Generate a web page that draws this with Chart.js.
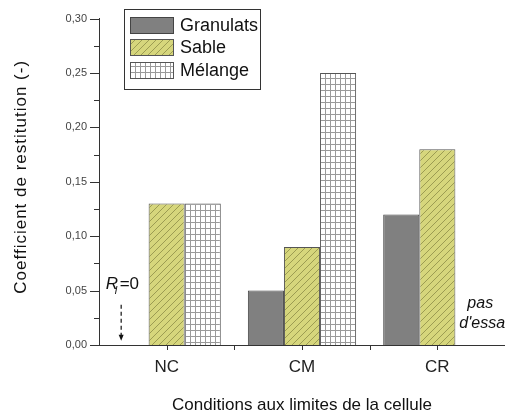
<!DOCTYPE html>
<html><head><meta charset="utf-8">
<script src="https://cdn.jsdelivr.net/npm/chart.js@4/dist/chart.umd.min.js"></script>
<style>html,body{margin:0;padding:0;background:#fff;}#wrap{width:505px;height:418px;}</style>
</head><body><div id="wrap"><canvas id="c" width="505" height="418"></canvas></div>
<script>
const categories = ['NC', 'CM', 'CR'];
const seriesNames = ['Granulats', 'Sable', 'Mélange'];
const granulats = [null, 0.05, 0.12];
const sable = [0.13, 0.09, 0.18];
const melange = [0.13, 0.25, null];
const yTicks = [0, 0.05, 0.10, 0.15, 0.20, 0.25, 0.30];
const yTitle = 'Coefficient de restitution (-)';
const xTitle = 'Conditions aux limites de la cellule';
const noteLeft = ['R', 'l', '=0'];
const noteRight = ['pas', "d'essai"];

function hatchPattern() {
  const c = document.createElement('canvas'); c.width = 7; c.height = 7;
  const g = c.getContext('2d');
  g.fillStyle = '#d6d67c'; g.fillRect(0, 0, 7, 7);
  g.strokeStyle = '#8d8d48'; g.lineWidth = 0.8;
  g.beginPath(); g.moveTo(-1, 8); g.lineTo(8, -1); g.stroke();
  g.beginPath(); g.moveTo(-1, 1); g.lineTo(1, -1); g.stroke();
  g.beginPath(); g.moveTo(6, 8); g.lineTo(8, 6); g.stroke();
  return g.createPattern(c, 'repeat');
}
function gridPattern() {
  const c = document.createElement('canvas'); c.width = 5; c.height = 6;
  const g = c.getContext('2d');
  g.fillStyle = '#ffffff'; g.fillRect(0, 0, 5, 6);
  g.fillStyle = '#9a9a9a'; g.fillRect(0, 0, 1, 6); g.fillRect(0, 0, 5, 1);
  return g.createPattern(c, 'repeat');
}
const fills = ['#808080', hatchPattern(), gridPattern()];
const borders = ['#444444', '#555555', '#555555'];

const FONT = "'Liberation Sans', Arial, sans-serif";

const extras = {
  id: 'extras',
  afterDraw(chart) {
    const ctx = chart.ctx;
    const xs = chart.scales.x, ys = chart.scales.y;
    const axisX = xs.left, axisY = ys.bottom;
    ctx.save();
    ctx.strokeStyle = '#333'; ctx.lineWidth = 1;
    // y ticks (major + minor)
    for (let i = 0; i < yTicks.length; i++) {
      const p = Math.round(ys.getPixelForValue(yTicks[i])) + 0.5;
      ctx.beginPath(); ctx.moveTo(axisX - 9, p); ctx.lineTo(axisX, p); ctx.stroke();
      if (i < yTicks.length - 1) {
        const m = Math.round(ys.getPixelForValue((yTicks[i] + yTicks[i + 1]) / 2)) + 0.5;
        ctx.beginPath(); ctx.moveTo(axisX - 5, m); ctx.lineTo(axisX, m); ctx.stroke();
      }
    }
    // x ticks at centers and between categories
    const step = (xs.right - xs.left) / categories.length;
    for (let i = 0; i < categories.length; i++) {
      const c = Math.round(xs.getPixelForValue(i)) + 0.5;
      ctx.beginPath(); ctx.moveTo(c, axisY); ctx.lineTo(c, axisY + 5); ctx.stroke();
      if (i > 0) {
        const b = Math.round(xs.left + step * i) + 0.5;
        ctx.beginPath(); ctx.moveTo(b, axisY); ctx.lineTo(b, axisY + 5); ctx.stroke();
      }
    }
    // y title
    ctx.save();
    ctx.translate(21, (ys.top + ys.bottom) / 2 - 5);
    ctx.rotate(-Math.PI / 2);
    ctx.font = '17px ' + FONT; ctx.fillStyle = '#111';
    ctx.textAlign = 'center'; ctx.textBaseline = 'middle';
    ctx.letterSpacing = '1px';
    ctx.fillText(yTitle, 0, 0);
    ctx.restore();
    // legend
    const lx = 124.5, ly = 9.5, lw = 136, lh = 80;
    ctx.fillStyle = '#fff'; ctx.fillRect(lx, ly, lw, lh);
    ctx.strokeStyle = '#333'; ctx.strokeRect(lx, ly, lw, lh);
    ctx.font = '18px ' + FONT; ctx.textBaseline = 'middle'; ctx.textAlign = 'left';
    const rows = [25, 47, 70];
    for (let i = 0; i < seriesNames.length; i++) {
      const ds = chart.data.datasets[i];
      ctx.fillStyle = ds.backgroundColor;
      ctx.fillRect(130, rows[i] - 8, 43, 16);
      ctx.strokeStyle = ds.borderColor;
      ctx.strokeRect(130.5, rows[i] - 7.5, 43, 16);
      ctx.fillStyle = '#111';
      ctx.fillText(seriesNames[i], 180, rows[i] + 1);
    }
    // annotation R_l = 0
    const nc = xs.getPixelForValue(0);
    const ay = ys.getPixelForValue(0.06);
    ctx.fillStyle = '#111'; ctx.textBaseline = 'alphabetic';
    ctx.font = 'italic 17px ' + FONT;
    ctx.fillText(noteLeft[0], nc - 61, ay + 9);
    ctx.font = 'italic 11px ' + FONT;
    ctx.fillText(noteLeft[1], nc - 52, ay + 14);
    ctx.font = '17px ' + FONT;
    ctx.fillText(noteLeft[2], nc - 47, ay + 9);
    // dashed arrow
    const arX = nc - 45.5;
    const y1 = ys.getPixelForValue(0.037), y2 = ys.getPixelForValue(0.004);
    ctx.strokeStyle = '#111'; ctx.lineWidth = 1.2; ctx.setLineDash([4, 3]);
    ctx.beginPath(); ctx.moveTo(arX, y1); ctx.lineTo(arX, y2 - 4); ctx.stroke();
    ctx.setLineDash([]);
    ctx.fillStyle = '#111';
    ctx.beginPath(); ctx.moveTo(arX - 2.5, y2 - 6); ctx.lineTo(arX + 2.5, y2 - 6); ctx.lineTo(arX, y2); ctx.closePath(); ctx.fill();
    // annotation pas d'essai
    const cr = xs.getPixelForValue(2);
    ctx.font = 'italic 16px ' + FONT; ctx.textAlign = 'left';
    ctx.fillText(noteRight[0], cr + 30, ys.getPixelForValue(0.034));
    ctx.fillText(noteRight[1], cr + 22, ys.getPixelForValue(0.016));
    ctx.restore();
  }
};

new Chart(document.getElementById('c'), {
  type: 'bar',
  data: {
    labels: categories,
    datasets: seriesNames.map((n, i) => ({
      label: n,
      data: [granulats, sable, melange][i],
      backgroundColor: fills[i],
      borderColor: borders[i],
      borderWidth: 1,
      categoryPercentage: 0.8,
      barPercentage: 1.0
    }))
  },
  options: {
    responsive: false,
    animation: false,
    devicePixelRatio: 1,
    layout: { padding: { top: 15, right: 0, left: 0, bottom: 0 } },
    plugins: { legend: { display: false }, tooltip: { enabled: false } },
    scales: {
      x: {
        offset: true,
        grid: { display: false, drawTicks: false },
        border: { color: '#333', width: 1 },
        ticks: { color: '#222', font: { family: FONT, size: 17 }, padding: 12 },
        title: { display: true, text: xTitle, color: '#111', font: { family: FONT, size: 17 }, padding: { top: 0, bottom: 2 } },
        afterFit(s) { s.height = 73; }
      },
      y: {
        min: 0, max: 0.30,
        grid: { display: false, drawTicks: false },
        border: { color: '#333', width: 1 },
        ticks: {
          stepSize: 0.05, padding: 12, color: '#444',
          font: { family: FONT, size: 11 },
          callback: (v) => v.toFixed(2).replace('.', ',')
        },
        title: { display: false },
        afterFit(s) { s.width = 99; }
      }
    }
  },
  plugins: [extras]
});
</script></body></html>
